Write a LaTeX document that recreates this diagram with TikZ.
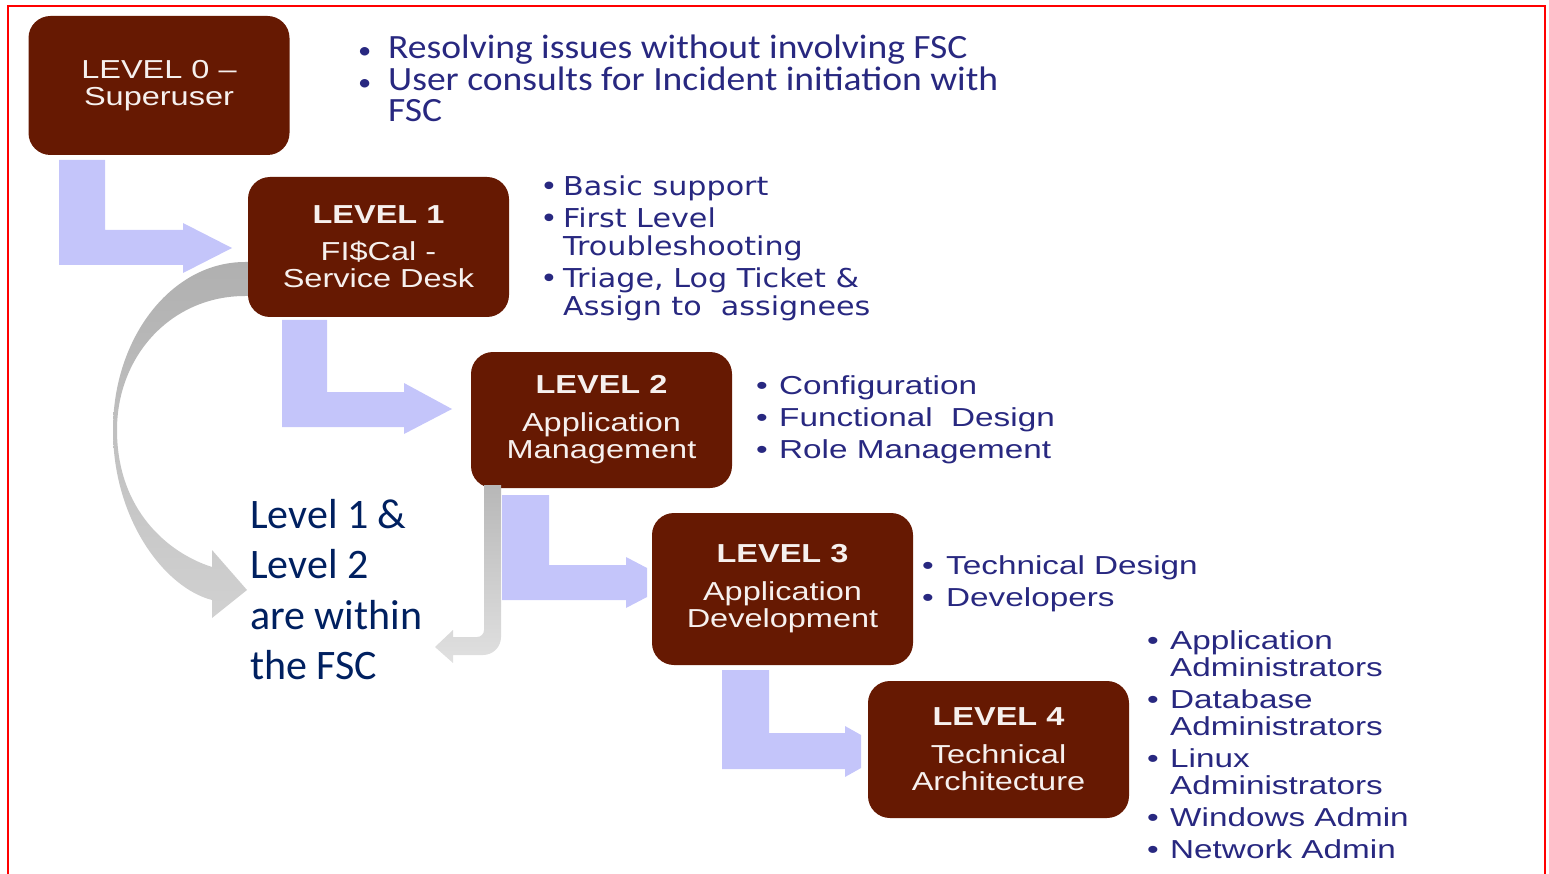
\documentclass[tikz,border=0pt]{standalone}
\usepackage{fontspec}
\setmainfont{Liberation Sans}
\newfontfamily\boxfont[FakeStretch=1.25]{Liberation Sans}
\newfontfamily\listfont[FakeStretch=1.28]{Liberation Sans}
\newfontfamily\verdfont[FakeStretch=1.16]{DejaVu Sans}
\newfontfamily\calwide[FakeStretch=1.105]{Carlito}
\newfontfamily\calfont{Carlito}

\definecolor{boxbrown}{RGB}{102,25,2}
\definecolor{boxtext}{RGB}{246,240,238}
\definecolor{listblue}{RGB}{40,40,128}
\definecolor{notenavy}{RGB}{0,32,96}
\definecolor{flowblue}{RGB}{196,197,250}
\definecolor{frameRed}{RGB}{255,0,0}

% bullet set in a box of the given width
\newcommand\lbul[1]{\makebox[#1][l]{\textbullet}}
% smaller bullet for the top list
\newcommand\sbul[1]{\makebox[#1][l]{\fontsize{24}{24}\selectfont\textbullet}}

\tikzset{
  levelbox/.style={rectangle, rounded corners=22pt, fill=boxbrown, text=boxtext,
    minimum width=261pt, inner sep=0pt, align=center,
    font=\boxfont\fontsize{26}{27}\selectfont},
  bulletlist/.style={anchor=north west, inner sep=0pt, align=left, text=listblue},
  flow/.style={fill=flowblue},
}

\begin{document}
\begin{tikzpicture}[x=1pt,y=-1pt]
\useasboundingbox (0,0) rectangle (1549,874);

% elbow arrows between the levels
\path[flow] (59,160) -- (105,160) -- (105,230) -- (183,230) -- (183,223) -- (232,248)
  -- (183,273) -- (183,265) -- (59,265) -- cycle;
\path[flow] (282,320) -- (327,320) -- (327,392) -- (404,392) -- (404,383) -- (452,409)
  -- (404,434) -- (404,427) -- (282,427) -- cycle;
\path[flow] (502,495) -- (549,495) -- (549,565) -- (626,565) -- (626,557) -- (647,568)
  -- (647,597) -- (626,608) -- (626,600) -- (502,600) -- cycle;
\path[flow] (722,670) -- (769,670) -- (769,733) -- (845,733) -- (845,726) -- (861,735)
  -- (861,768) -- (845,777) -- (845,769) -- (722,769) -- cycle;

% curved arrow from level 1 round to the note
\path[top color=black!31, bottom color=black!18]
  (260,262) -- (245,262)
  .. controls (172,262) and (113,337) .. (113,430)
  .. controls (113,520) and (165,588) .. (212,600)
  -- (212,618) -- (247,590) -- (212,550) -- (212,567)
  .. controls (168,553) and (117,510) .. (117,430)
  .. controls (117,355) and (172,296) .. (245,296)
  -- (260,296) -- cycle;

% level boxes
\node[levelbox, minimum height=139pt] (L0) at (159,85.5) {LEVEL 0 –\\Superuser};
\node[levelbox, minimum height=140pt] (L1) at (378.5,247)
  {\textbf{LEVEL 1}\\[10pt]FI\$Cal -\\Service Desk};
\node[levelbox, minimum height=136pt] (L2) at (601.5,420)
  {\textbf{LEVEL 2}\\[11pt]Application\\Management};
\node[levelbox, minimum height=152pt] (L3) at (782.5,589)
  {\textbf{LEVEL 3}\\[11pt]Application\\Development};
\node[levelbox, minimum height=137pt] (L4) at (998.5,749.5)
  {\textbf{LEVEL 4}\\[11pt]Technical\\Architecture};

% bracket arrow from level 2 back to the note
\path[top color=black!28, bottom color=black!12]
  (484,485) -- (501,485) -- (501,637) to[out=-90,in=0] (483,655) -- (453,655)
  -- (453,663) -- (435,647) -- (453,630) -- (453,637) -- (477,637)
  to[out=0,in=-90] (484,630) -- cycle;

% task lists
\node[bulletlist, font=\calwide\fontsize{34}{31.5}\selectfont] (T0) at (358,35)
  {\sbul{30pt}Resolving issues without involving FSC\\
   \sbul{30pt}User consults for Incident initiation with\\
   \hspace*{30pt}FSC};
\node[bulletlist, font=\verdfont\fontsize{26}{28}\selectfont] (T1) at (540,176)
  {\lbul{23pt}Basic support\\[4pt]
   \lbul{23pt}First Level\\
   \hspace*{23pt}Troubleshooting\\[4pt]
   \lbul{23pt}Triage, Log Ticket \&\\
   \hspace*{23pt}Assign to\ \ assignees};
\node[bulletlist, font=\listfont\fontsize{26}{32}\selectfont] (T2) at (756,375)
  {\lbul{23pt}Configuration\\
   \lbul{23pt}Functional\ \ Design\\
   \lbul{23pt}Role Management};
\node[bulletlist, font=\listfont\fontsize{26}{32}\selectfont] (T3) at (922,555)
  {\lbul{24pt}Technical\ Design\\
   \lbul{24pt}Developers};
\node[bulletlist, font=\listfont\fontsize{26}{27}\selectfont] (T4) at (1147,630)
  {\lbul{23pt}Application\\
   \hspace*{23pt}Administrators\\[5pt]
   \lbul{23pt}Database\\
   \hspace*{23pt}Administrators\\[5pt]
   \lbul{23pt}Linux\\
   \hspace*{23pt}Administrators\\[5pt]
   \lbul{23pt}Windows Admin\\[5pt]
   \lbul{23pt}Network Admin};

% note on the service centre
\node[anchor=north west, inner sep=0pt, align=left, text=notenavy,
  font=\calfont\fontsize{42}{50.5}\selectfont] (note) at (250,499)
  {Level 1 \&\\Level 2\\are within\\the FSC};

% frame
\draw[frameRed, line width=2.5pt] (8,874) -- (8,6) -- (1545,6) -- (1545,874);
\end{tikzpicture}
\end{document}
